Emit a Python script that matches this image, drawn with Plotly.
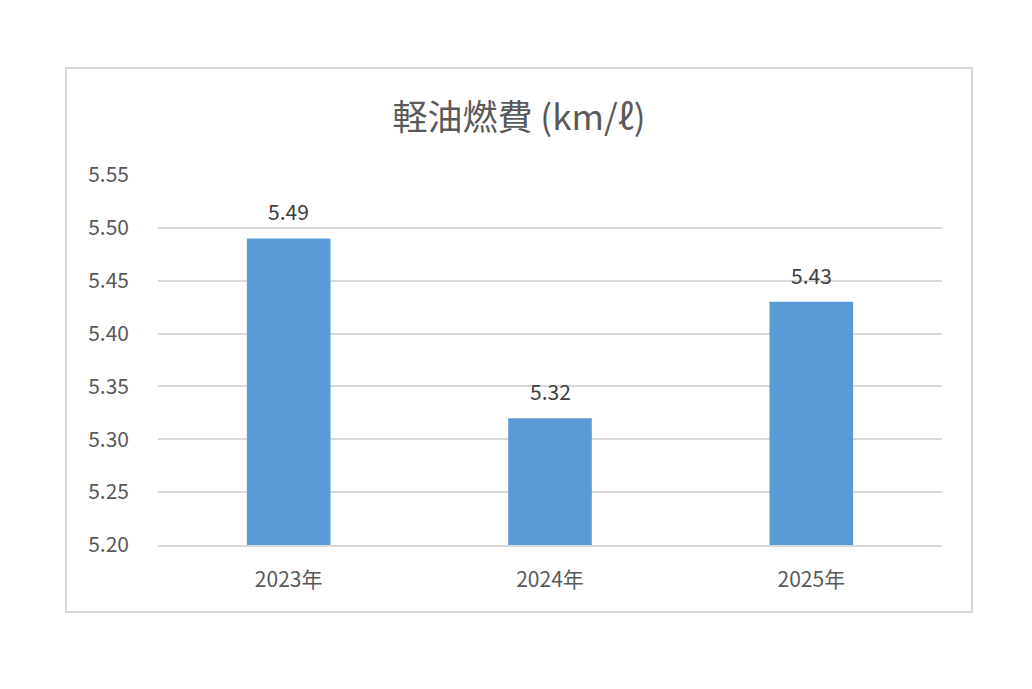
import plotly.graph_objects as go

categories = ["2023年", "2024年", "2025年"]
values = [5.49, 5.32, 5.43]
tick_vals = [5.20, 5.25, 5.30, 5.35, 5.40, 5.45, 5.50, 5.55]
tick_text = ["5.20", "5.25", "5.30", "5.35", "5.40", "5.45", "5.50", "5.55"]
title_text = "軽油燃費 (km/ℓ)"

FONT = "Noto Sans CJK JP, Noto Sans, sans-serif"
GREY = "#595959"

fig = go.Figure()
fig.add_trace(go.Bar(x=categories, y=values, marker=dict(color="#5B9BD5", line=dict(width=0)),
                     hoverinfo="x+y"))

for c, v in zip(categories, values):
    fig.add_annotation(x=c, y=v, text=f"{v:.2f}", showarrow=False, yshift=27,
                       font=dict(family=FONT, size=21, color="#404040"))

L, R, T, B = 158, 90, 175, 144
W, H = 1032, 689
pw, ph = W - L - R, H - T - B
def px(x): return (x - L) / pw
def py(y): return (H - B - y) / ph

fig.add_shape(type="rect", xref="paper", yref="paper",
              x0=px(66), x1=px(972), y0=py(612), y1=py(68),
              line=dict(color="#D9D9D9", width=2), fillcolor="rgba(0,0,0,0)", layer="below")

fig.update_layout(
    width=W, height=H,
    margin=dict(l=L, r=R, t=T, b=B),
    paper_bgcolor="white", plot_bgcolor="white",
    bargap=0.68,
    showlegend=False,
    title=dict(text=title_text, x=519 / W, xanchor="center", y=1 - 118 / H, yanchor="middle",
               font=dict(family=FONT, size=35, color=GREY)),
    font=dict(family=FONT, color=GREY),
)
fig.update_yaxes(range=[5.20, 5.55], tickvals=tick_vals, ticktext=tick_text,
                 showgrid=True, gridcolor="#D9D9D9", gridwidth=2, zeroline=False,
                 showline=False, ticks="", ticklabelstandoff=28,
                 tickfont=dict(family=FONT, size=21, color=GREY))
fig.update_xaxes(showline=True, linecolor="#D9D9D9", linewidth=2, ticks="",
                 ticklabelstandoff=15,
                 tickfont=dict(family=FONT, size=21, color=GREY))

fig.write_html("out.html")
